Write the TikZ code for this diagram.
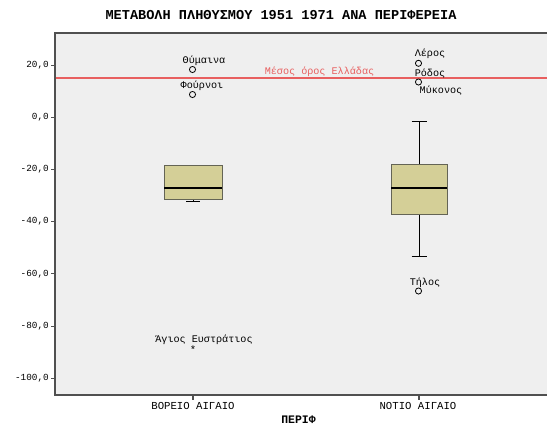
\documentclass[tikz,border=0pt]{standalone}
\usepackage{fontspec}
\setmainfont{Liberation Mono}
\definecolor{plotbg}{RGB}{239,239,239}
\definecolor{boxfill}{RGB}{212,207,151}
\definecolor{boxedge}{RGB}{100,100,85}
\definecolor{meanred}{RGB}{232,95,95}
\definecolor{frameedge}{RGB}{80,80,80}
\begin{document}
\begin{tikzpicture}[x=0.75pt,y=-0.75pt,
  lbl/.style={font=\fontsize{7.6}{8}\selectfont, inner sep=0pt},
  ylbl/.style={font=\fontsize{7}{8}\selectfont, inner sep=0pt, anchor=east},
  xlbl/.style={font=\fontsize{8}{9}\selectfont, inner sep=0pt},
  outl/.style={draw=black, line width=0.6pt, circle, minimum size=4.6pt, inner sep=0pt},
  whisk/.style={draw=black, line width=0.7pt},
  boxst/.style={draw=boxedge, fill=boxfill, line width=0.7pt},
  medst/.style={draw=black, line width=1.5pt}]
\useasboundingbox (0,0) rectangle (547,425);
\fill[white] (0,0) rectangle (547,425);
% plot area
\fill[plotbg] (55,33) rectangle (547,395);
\draw[frameedge, line width=1pt] (547,33) -- (55,33) -- (55,395) -- (547,395);
% title
\node[font=\bfseries\fontsize{10.2}{11}\selectfont, inner sep=0pt] (title) at (281,15) {ΜΕΤΑΒΟΛΗ ΠΛΗΘΥΣΜΟΥ 1951 1971 ΑΝΑ ΠΕΡΙΦΕΡΕΙΑ};
% y axis ticks
\foreach \v/\t [count=\i] in {20/{20,0},0/{0,0},-20/{-20,0},-40/{-40,0},-60/{-60,0},-80/{-80,0},-100/{-100,0}}{
  \pgfmathsetmacro{\yy}{117.3-2.61*\v}
  \draw[frameedge, line width=0.8pt] (51,\yy) -- (55,\yy);
  \node[ylbl] (yt\i) at (49,\yy) {\t};
}
% mean line
\draw[draw=meanred, line width=1.5pt] (55.5,77.5) -- (547,77.5);
\node[lbl, text=meanred] (mean) at (319.5,71.5) {Μέσος όρος Ελλάδας};
% box 1 (Βόρειο Αιγαίο)
\coordinate (b1low) at (193,199);
\coordinate (b1cap) at (193,201.7);
\draw[whisk] (b1low) -- (b1cap);
\draw[whisk] (186,201.7) -- (200,201.7);
\draw[boxst] (164,165) rectangle (222,199);
\draw[medst] (164,188.3) -- (222,188.3);
% box 2 (Νότιο Αιγαίο)
\coordinate (b2top) at (419,164);
\coordinate (b2bot) at (419,214);
\coordinate (b2hi) at (419,121.7);
\coordinate (b2lo) at (419,256.7);
\draw[whisk] (b2top) -- (b2hi);
\draw[whisk] (b2bot) -- (b2lo);
\draw[whisk] (411.5,121.7) -- (426.5,121.7);
\draw[whisk] (411.5,256.7) -- (426.5,256.7);
\draw[boxst] (391,164) rectangle (447,214);
\draw[medst] (391,187.7) -- (447,187.7);
% outliers box 1
\node[outl] (o1) at (192.5,69.5) {};
\node[lbl] (l1) at (204,61) {Θύμαινα};
\node[outl] (o2) at (192.5,94.5) {};
\node[lbl] (l2) at (202,86) {Φούρνοι};
\node[inner sep=0pt, font=\fontsize{8}{8}\selectfont] (o3) at (193,349.5) {*};
\node[lbl] (l3) at (204,340) {Άγιος Ευστράτιος};
% outliers box 2
\node[outl] (o4) at (418.5,63.3) {};
\node[lbl] (l4) at (430,54) {Λέρος};
\node[outl] (o5) at (418.5,82) {};
\node[lbl] (l5) at (430,73.3) {Ρόδος};
\node[lbl] (l6) at (441,91) {Μύκονος};
\node[outl] (o7) at (418.5,291) {};
\node[lbl] (l7) at (425,283) {Τήλος};
% x axis
\draw[frameedge, line width=0.8pt] (193,395) -- (193,400);
\draw[frameedge, line width=0.8pt] (419,395) -- (419,400);
\node[xlbl] (x1) at (193,406) {ΒΟΡΕΙΟ ΑΙΓΑΙΟ};
\node[xlbl] (x2) at (418,406) {ΝΟΤΙΟ ΑΙΓΑΙΟ};
\node[font=\bfseries\fontsize{8.6}{9}\selectfont, inner sep=0pt] (xt) at (298.5,419.5) {ΠΕΡΙΦ};
\end{tikzpicture}
\end{document}
